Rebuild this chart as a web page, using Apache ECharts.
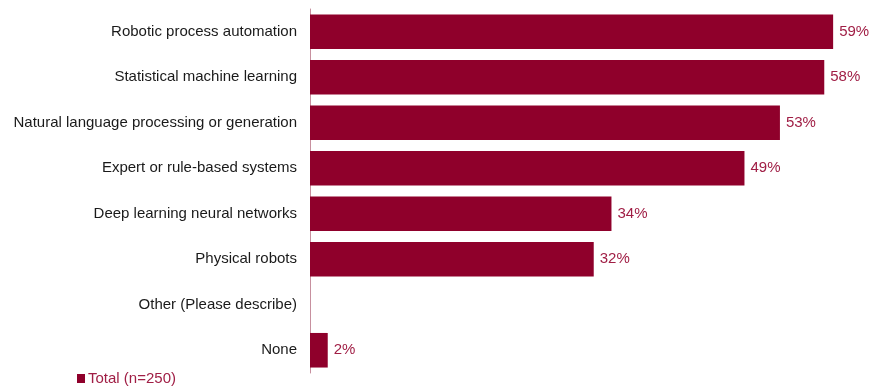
<!DOCTYPE html>
<html>
<head>
<meta charset="utf-8">
<script src="https://cdn.jsdelivr.net/npm/echarts@6/dist/echarts.min.js"></script>
<style>
  html, body { margin: 0; padding: 0; background: #fff; }
  #chart { width: 869px; height: 386px; }
</style>
</head>
<body>
<div id="chart"></div>
<script>
// AI technologies in use, share of respondents (%)
const categories = [
  'Robotic process automation',
  'Statistical machine learning',
  'Natural language processing or generation',
  'Expert or rule-based systems',
  'Deep learning neural networks',
  'Physical robots',
  'Other (Please describe)',
  'None'
];
const totalValues = [59, 58, 53, 49, 34, 32, null, 2];
const seriesName = 'Total (n=250)';

const barColor = '#8F002B';
const labelColor = '#A01E45';
const font = 'Liberation Sans, Arial, sans-serif';

const chart = echarts.init(document.getElementById('chart'), null, { renderer: 'canvas' });
chart.setOption({
  animation: false,
  backgroundColor: '#ffffff',
  grid: { left: 310, top: 9, width: 532, height: 364, containLabel: false },
  xAxis: {
    type: 'value',
    min: 0,
    max: 60,
    show: false
  },
  yAxis: {
    type: 'category',
    data: categories,
    inverse: true,
    axisTick: { show: false },
    axisLine: { show: true, lineStyle: { color: '#C7909F', width: 1 } },
    axisLabel: { color: '#1a1a1a', fontSize: 15, fontFamily: font, margin: 13 }
  },
  legend: {
    left: 72,
    top: 366,
    itemWidth: 8,
    itemHeight: 9,
    itemGap: 10,
    icon: 'rect',
    textStyle: { color: labelColor, fontSize: 15, fontFamily: font, padding: [0, 0, 0, -2] },
    data: [seriesName]
  },
  series: [{
    name: seriesName,
    type: 'bar',
    data: totalValues,
    barCategoryGap: '24%',
    itemStyle: { color: barColor },
    label: {
      show: true,
      position: 'right',
      distance: 6,
      formatter: '{c}%',
      color: labelColor,
      fontSize: 15,
      fontFamily: font
    }
  }]
});
</script>
</body>
</html>
